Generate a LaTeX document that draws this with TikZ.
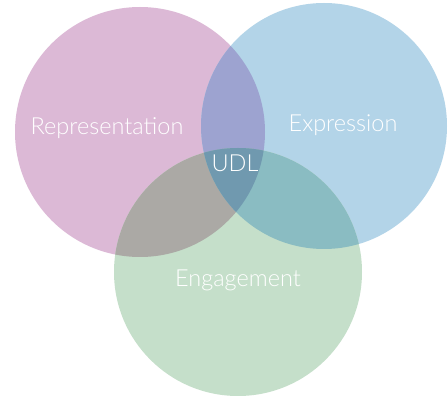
\documentclass[tikz,border=0pt]{standalone}
\usepackage{fontspec}
\setmainfont{Lato Light}
\definecolor{pinkc}{HTML}{DCB9D6}
\definecolor{bluec}{HTML}{B3D4E8}
\definecolor{greenc}{HTML}{C5DFCA}
\definecolor{pbc}{HTML}{9DA3D0}
\definecolor{pgc}{HTML}{ABA9A5}
\definecolor{bgc}{HTML}{8ABCC2}
\definecolor{allc}{HTML}{7099AF}
\tikzset{lbl/.style={text=white,font=\fontsize{23.5}{27}\selectfont}}
\begin{document}
\begin{tikzpicture}[x=1pt,y=-1pt]
\useasboundingbox (0,0) rectangle (448,398);
\fill[white] (0,0) rectangle (448,398);
\def\pinkpath{(140,132) circle[radius=125]}
\def\bluepath{(324,126) circle[radius=123]}
\def\greenpath{(238,272) circle[radius=124]}
\fill[pinkc] \pinkpath;
\fill[bluec] \bluepath;
\fill[greenc] \greenpath;
\begin{scope}\clip \pinkpath; \fill[pbc] \bluepath; \end{scope}
\begin{scope}\clip \pinkpath; \fill[pgc] \greenpath; \end{scope}
\begin{scope}\clip \bluepath; \fill[bgc] \greenpath; \end{scope}
\begin{scope}\clip \pinkpath; \clip \bluepath; \fill[allc] \greenpath; \end{scope}
\node[lbl] (rep) at (107,128) {Representation};
\node[lbl] (exp) at (343,125) {Expression};
\node[lbl] (udl) at (235,163) {UDL};
\node[lbl] (eng) at (238,280) {Engagement};
\end{tikzpicture}
\end{document}
